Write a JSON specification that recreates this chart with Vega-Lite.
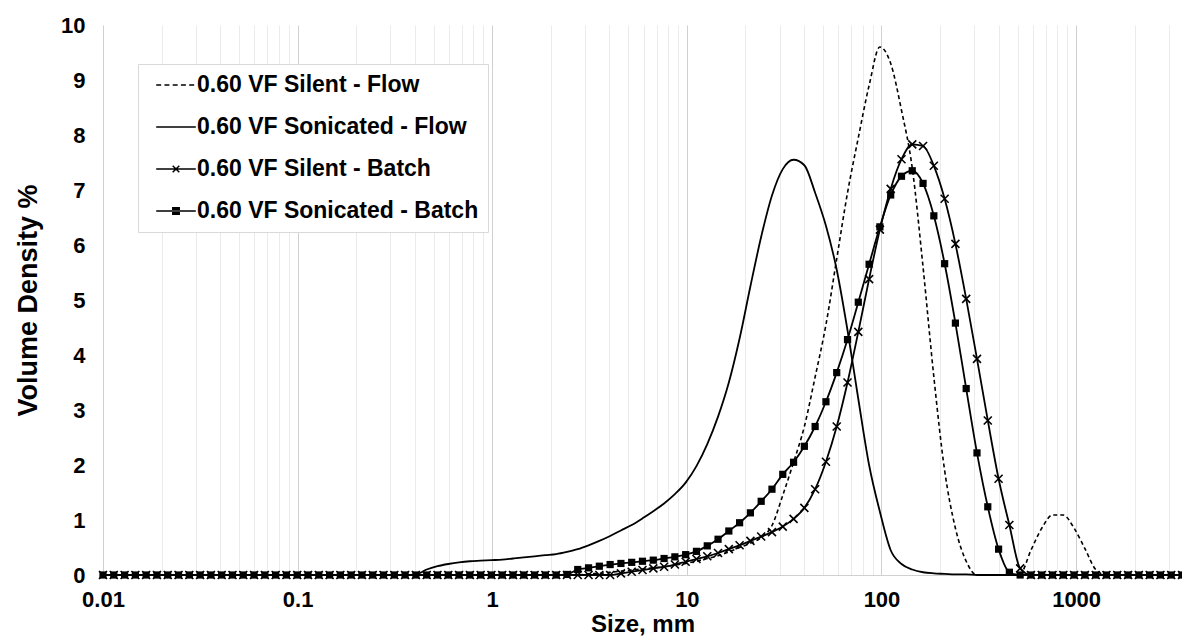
{
  "$schema": "https://vega.github.io/schema/vega-lite/v6.json",
  "width": 1079,
  "height": 550,
  "autosize": "none",
  "padding": {"left": 103, "top": 25, "right": 0, "bottom": 66},
  "background": "white",
  "config": {"view": {"stroke": null}, "font": "Liberation Sans"},
  "data": {"values": [
    {"x": 0.01, "sf": 0, "nf": 0, "sb": 0, "nb": 0},
    {"x": 0.01136, "sf": 0, "nf": 0, "sb": 0, "nb": 0},
    {"x": 0.01291, "sf": 0, "nf": 0, "sb": 0, "nb": 0},
    {"x": 0.01467, "sf": 0, "nf": 0, "sb": 0, "nb": 0},
    {"x": 0.01666, "sf": 0, "nf": 0, "sb": 0, "nb": 0},
    {"x": 0.01893, "sf": 0, "nf": 0, "sb": 0, "nb": 0},
    {"x": 0.02151, "sf": 0, "nf": 0, "sb": 0, "nb": 0},
    {"x": 0.02444, "sf": 0, "nf": 0, "sb": 0, "nb": 0},
    {"x": 0.02777, "sf": 0, "nf": 0, "sb": 0, "nb": 0},
    {"x": 0.03155, "sf": 0, "nf": 0, "sb": 0, "nb": 0},
    {"x": 0.03584, "sf": 0, "nf": 0, "sb": 0, "nb": 0},
    {"x": 0.04072, "sf": 0, "nf": 0, "sb": 0, "nb": 0},
    {"x": 0.04627, "sf": 0, "nf": 0, "sb": 0, "nb": 0},
    {"x": 0.05257, "sf": 0, "nf": 0, "sb": 0, "nb": 0},
    {"x": 0.05972, "sf": 0, "nf": 0, "sb": 0, "nb": 0},
    {"x": 0.06786, "sf": 0, "nf": 0, "sb": 0, "nb": 0},
    {"x": 0.0771, "sf": 0, "nf": 0, "sb": 0, "nb": 0},
    {"x": 0.08759, "sf": 0, "nf": 0, "sb": 0, "nb": 0},
    {"x": 0.09952, "sf": 0, "nf": 0, "sb": 0, "nb": 0},
    {"x": 0.1131, "sf": 0, "nf": 0, "sb": 0, "nb": 0},
    {"x": 0.1285, "sf": 0, "nf": 0, "sb": 0, "nb": 0},
    {"x": 0.146, "sf": 0, "nf": 0, "sb": 0, "nb": 0},
    {"x": 0.1658, "sf": 0, "nf": 0, "sb": 0, "nb": 0},
    {"x": 0.1884, "sf": 0, "nf": 0, "sb": 0, "nb": 0},
    {"x": 0.2141, "sf": 0, "nf": 0, "sb": 0, "nb": 0},
    {"x": 0.2432, "sf": 0, "nf": 0, "sb": 0, "nb": 0},
    {"x": 0.2763, "sf": 0, "nf": 0, "sb": 0, "nb": 0},
    {"x": 0.314, "sf": 0, "nf": 0, "sb": 0, "nb": 0},
    {"x": 0.3567, "sf": 0, "nf": 0, "sb": 0, "nb": 0},
    {"x": 0.4053, "sf": 0, "nf": 0.01, "sb": 0, "nb": 0},
    {"x": 0.4605, "sf": 0, "nf": 0.1, "sb": 0, "nb": 0},
    {"x": 0.5232, "sf": 0, "nf": 0.16, "sb": 0, "nb": 0},
    {"x": 0.5944, "sf": 0, "nf": 0.2, "sb": 0, "nb": 0},
    {"x": 0.6753, "sf": 0, "nf": 0.23, "sb": 0, "nb": 0},
    {"x": 0.7673, "sf": 0, "nf": 0.25, "sb": 0, "nb": 0},
    {"x": 0.8718, "sf": 0, "nf": 0.26, "sb": 0, "nb": 0},
    {"x": 0.9905, "sf": 0, "nf": 0.27, "sb": 0, "nb": 0},
    {"x": 1.125, "sf": 0, "nf": 0.28, "sb": 0, "nb": 0},
    {"x": 1.279, "sf": 0, "nf": 0.3, "sb": 0, "nb": 0},
    {"x": 1.453, "sf": 0, "nf": 0.32, "sb": 0, "nb": 0},
    {"x": 1.65, "sf": 0, "nf": 0.34, "sb": 0, "nb": 0},
    {"x": 1.875, "sf": 0, "nf": 0.36, "sb": 0, "nb": 0},
    {"x": 2.131, "sf": 0, "nf": 0.38, "sb": 0, "nb": 0},
    {"x": 2.421, "sf": 0, "nf": 0.42, "sb": 0, "nb": 0.01},
    {"x": 2.75, "sf": 0, "nf": 0.47, "sb": 0, "nb": 0.1},
    {"x": 3.125, "sf": 0.02, "nf": 0.54, "sb": 0, "nb": 0.13},
    {"x": 3.55, "sf": 0.03, "nf": 0.62, "sb": 0, "nb": 0.16},
    {"x": 4.034, "sf": 0.05, "nf": 0.71, "sb": 0, "nb": 0.19},
    {"x": 4.583, "sf": 0.07, "nf": 0.81, "sb": 0.03, "nb": 0.21},
    {"x": 5.207, "sf": 0.09, "nf": 0.91, "sb": 0.06, "nb": 0.23},
    {"x": 5.916, "sf": 0.11, "nf": 1.03, "sb": 0.09, "nb": 0.25},
    {"x": 6.722, "sf": 0.13, "nf": 1.16, "sb": 0.12, "nb": 0.27},
    {"x": 7.637, "sf": 0.15, "nf": 1.3, "sb": 0.15, "nb": 0.3},
    {"x": 8.677, "sf": 0.18, "nf": 1.47, "sb": 0.19, "nb": 0.33},
    {"x": 9.858, "sf": 0.21, "nf": 1.68, "sb": 0.24, "nb": 0.37},
    {"x": 11.2, "sf": 0.25, "nf": 1.98, "sb": 0.29, "nb": 0.43},
    {"x": 12.73, "sf": 0.3, "nf": 2.38, "sb": 0.34, "nb": 0.53},
    {"x": 14.46, "sf": 0.35, "nf": 2.88, "sb": 0.4, "nb": 0.65},
    {"x": 16.43, "sf": 0.42, "nf": 3.5, "sb": 0.47, "nb": 0.8},
    {"x": 18.66, "sf": 0.5, "nf": 4.3, "sb": 0.54, "nb": 0.95},
    {"x": 21.21, "sf": 0.58, "nf": 5.25, "sb": 0.62, "nb": 1.13},
    {"x": 24.09, "sf": 0.68, "nf": 6.15, "sb": 0.7, "nb": 1.34},
    {"x": 27.37, "sf": 0.9, "nf": 6.9, "sb": 0.78, "nb": 1.56},
    {"x": 31.1, "sf": 1.45, "nf": 7.38, "sb": 0.88, "nb": 1.83},
    {"x": 35.34, "sf": 2.05, "nf": 7.55, "sb": 1.02, "nb": 2.05},
    {"x": 40.15, "sf": 2.7, "nf": 7.45, "sb": 1.22, "nb": 2.34},
    {"x": 45.61, "sf": 3.6, "nf": 6.95, "sb": 1.56, "nb": 2.7},
    {"x": 51.83, "sf": 4.55, "nf": 6.35, "sb": 2.06, "nb": 3.15},
    {"x": 58.88, "sf": 5.75, "nf": 5.55, "sb": 2.7, "nb": 3.68},
    {"x": 66.9, "sf": 6.95, "nf": 4.45, "sb": 3.5, "nb": 4.28},
    {"x": 76.01, "sf": 7.95, "nf": 3.2, "sb": 4.42, "nb": 4.96},
    {"x": 86.36, "sf": 8.9, "nf": 2.0, "sb": 5.38, "nb": 5.65},
    {"x": 98.12, "sf": 9.6, "nf": 1.15, "sb": 6.28, "nb": 6.33},
    {"x": 111.5, "sf": 9.3, "nf": 0.45, "sb": 7.02, "nb": 6.91},
    {"x": 126.7, "sf": 8.45, "nf": 0.2, "sb": 7.56, "nb": 7.25},
    {"x": 143.9, "sf": 7.4, "nf": 0.1, "sb": 7.83, "nb": 7.35},
    {"x": 163.5, "sf": 5.6, "nf": 0.05, "sb": 7.8, "nb": 7.12},
    {"x": 185.8, "sf": 3.6, "nf": 0.03, "sb": 7.44, "nb": 6.53},
    {"x": 211.1, "sf": 1.9, "nf": 0.02, "sb": 6.84, "nb": 5.66},
    {"x": 239.8, "sf": 0.85, "nf": 0.01, "sb": 6.02, "nb": 4.58},
    {"x": 272.4, "sf": 0.25, "nf": 0.01, "sb": 5.02, "nb": 3.39},
    {"x": 309.5, "sf": 0, "nf": 0, "sb": 3.93, "nb": 2.22},
    {"x": 351.7, "sf": 0, "nf": 0, "sb": 2.81, "nb": 1.24},
    {"x": 399.6, "sf": 0, "nf": 0, "sb": 1.75, "nb": 0.47},
    {"x": 454, "sf": 0, "nf": 0, "sb": 0.91, "nb": 0.05},
    {"x": 515.8, "sf": 0.02, "nf": 0, "sb": 0.12, "nb": 0},
    {"x": 586, "sf": 0.45, "nf": 0, "sb": 0, "nb": 0},
    {"x": 665.8, "sf": 0.85, "nf": 0, "sb": 0, "nb": 0},
    {"x": 756.5, "sf": 1.09, "nf": 0, "sb": 0, "nb": 0},
    {"x": 859.5, "sf": 1.09, "nf": 0, "sb": 0, "nb": 0},
    {"x": 976.5, "sf": 0.85, "nf": 0, "sb": 0, "nb": 0},
    {"x": 1110, "sf": 0.48, "nf": 0, "sb": 0, "nb": 0},
    {"x": 1261, "sf": 0.1, "nf": 0, "sb": 0, "nb": 0},
    {"x": 1432, "sf": 0, "nf": 0, "sb": 0, "nb": 0},
    {"x": 1627, "sf": 0, "nf": 0, "sb": 0, "nb": 0},
    {"x": 1849, "sf": 0, "nf": 0, "sb": 0, "nb": 0},
    {"x": 2101, "sf": 0, "nf": 0, "sb": 0, "nb": 0},
    {"x": 2387, "sf": 0, "nf": 0, "sb": 0, "nb": 0},
    {"x": 2712, "sf": 0, "nf": 0, "sb": 0, "nb": 0},
    {"x": 3081, "sf": 0, "nf": 0, "sb": 0, "nb": 0},
    {"x": 3500, "sf": 0, "nf": 0, "sb": 0, "nb": 0}
  ]},
  "transform": [{"fold": ["sf", "nf", "sb", "nb"], "as": ["series", "v"]}],
  "encoding": {
    "x": {
      "field": "x", "type": "quantitative",
      "scale": {"type": "log", "domain": [0.01, 3500]},
      "axis": {
        "title": "Size, mm",
        "values": [0.01,0.02,0.03,0.04,0.05,0.06,0.07,0.08,0.09,0.1,0.2,0.3,0.4,0.5,0.6,0.7,0.8,0.9,1,2,3,4,5,6,7,8,9,10,20,30,40,50,60,70,80,90,100,200,300,400,500,600,700,800,900,1000,2000,3000],
        "labelExpr": "indexof([0.01,0.1,1,10,100,1000], datum.value) >= 0 ? format(datum.value, '~g') : ''",
        "ticks": false,
        "grid": true,
        "gridColor": {"condition": {"test": "indexof([0.01,0.1,1,10,100,1000], datum.value) >= 0", "value": "#d0d0d0"}, "value": "#ebebeb"},
        "gridWidth": 1,
        "domainColor": "#d0d0d0",
        "labelFont": "Liberation Sans",
        "labelFontSize": 22,
        "labelFontWeight": "bold",
        "labelColor": "black",
        "labelPadding": 14,
        "labelOverlap": false,
        "labelFlush": false,
        "titleFont": "Liberation Sans",
        "titleFontSize": 24,
        "titleFontWeight": "bold",
        "titleColor": "black",
        "titlePadding": 2
      }
    },
    "y": {
      "field": "v", "type": "quantitative",
      "scale": {"domain": [0, 10]},
      "axis": {
        "title": "Volume Density %",
        "values": [0,1,2,3,4,5,6,7,8,9,10],
        "grid": false,
        "ticks": false,
        "domain": false,
        "labelFont": "Liberation Sans",
        "labelFontSize": 22,
        "labelFontWeight": "bold",
        "labelColor": "black",
        "labelPadding": 18,
        "titleFont": "Liberation Sans",
        "titleFontSize": 27,
        "titleFontWeight": "bold",
        "titleColor": "black",
        "titlePadding": 18
      }
    }
  },
  "layer": [
    {"transform": [{"filter": "datum.series == 'sf'"}],
     "mark": {"type": "line", "color": "black", "strokeWidth": 1.6, "strokeDash": [4, 3], "interpolate": "monotone"}},
    {"transform": [{"filter": "datum.series == 'nf'"}],
     "mark": {"type": "line", "color": "black", "strokeWidth": 1.8, "interpolate": "monotone"}},
    {"transform": [{"filter": "datum.series == 'sb'"}],
     "mark": {"type": "line", "color": "black", "strokeWidth": 1.8, "interpolate": "monotone"}},
    {"transform": [{"filter": "datum.series == 'nb'"}],
     "mark": {"type": "line", "color": "black", "strokeWidth": 1.8, "interpolate": "monotone"}},
    {"transform": [{"filter": "datum.series == 'sb'"}],
     "mark": {"type": "point", "shape": "M-1,-1L1,1M-1,1L1,-1", "filled": false, "stroke": "black", "strokeWidth": 1.6, "size": 64, "opacity": 1}},
    {"transform": [{"filter": "datum.series == 'nb'"}],
     "mark": {"type": "point", "shape": "square", "filled": true, "color": "black", "size": 52, "opacity": 1}},
    {"transform": [{"filter": "false"}],
     "mark": {"type": "point", "filled": false, "color": "black", "strokeWidth": 1.5, "opacity": 1},
     "encoding": {
       "shape": {
         "field": "series", "type": "nominal",
         "scale": {
           "domain": ["sf", "nf", "sb", "nb"],
           "range": [
             "M-1.8,0H-1.35M-1.05,0H-0.6M-0.3,0H0.15M0.45,0H0.9M1.2,0H1.65",
             "M-1.8,0H1.8",
             "M-1.8,0H1.8M-0.3,-0.3L0.3,0.3M-0.3,0.3L0.3,-0.3",
             "M-1.8,0H1.8M-0.36,-0.3H0.36M-0.36,-0.15H0.36M-0.36,0.15H0.36M-0.36,0.3H0.36"
           ]
         },
         "legend": {
           "orient": "none",
           "legendX": 35,
           "legendY": 39,
           "title": null,
           "direction": "vertical",
           "labelExpr": "datum.value == 'sf' ? '0.60 VF Silent - Flow' : datum.value == 'nf' ? '0.60 VF Sonicated - Flow' : datum.value == 'sb' ? '0.60 VF Silent  - Batch' : '0.60 VF Sonicated - Batch'",
           "labelFont": "Liberation Sans",
           "labelFontSize": 23,
           "labelFontWeight": "bold",
           "labelColor": "black",
           "labelLimit": 500,
           "symbolSize": 484,
           "symbolStrokeWidth": 1.5,
           "symbolStrokeColor": "black",
           "symbolOffset": 17,
           "labelOffset": 9,
           "rowPadding": 18,
           "padding": 9,
           "strokeColor": "#d9d9d9",
           "fillColor": "white",
           "cornerRadius": 0
         }
       }
     }}
  ]
}
